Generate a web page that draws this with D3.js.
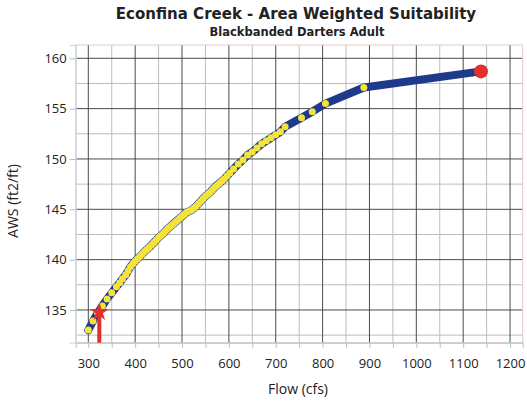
<!DOCTYPE html>
<html lang="en">
<head>
<meta charset="UTF-8"/>
<title>Econfina Creek - Area Weighted Suitability</title>
<script src="https://d3js.org/d3.v7.min.js"></script>
<style>
	body { margin: 0; background: white; }
	text { font-family: "Open Sans", sans-serif; fill: #222; }
	.title { font-family: "DejaVu Sans", sans-serif; font-weight: bold; }
</style>
</head>
<body>
<script>
	var w = 527;
	var h = 406;

	// flow (cfs) and AWS (ft2/ft)
	var flows = [300, 310, 320, 330, 340, 350, 360, 367, 373, 380,
				385, 390, 395, 400, 405, 410, 415, 420, 425, 430,
				435, 440, 445, 450, 455, 460, 465, 470, 475, 480,
				485, 490, 495, 500, 505, 510, 515, 520, 525, 530,
				535, 540, 545, 550, 555, 560, 565, 570, 575, 580,
				585, 590, 596, 602, 610, 620, 630, 640, 650, 660,
				670, 680, 690, 700, 710, 720, 755, 778, 806, 888];
	var aws = [133.0, 133.9, 134.7, 135.4, 136.1, 136.7, 137.3, 137.7, 138.1, 138.5,
				138.9, 139.3, 139.6, 139.85, 140.1, 140.3, 140.55, 140.8, 141.0, 141.2,
				141.45, 141.7, 141.95, 142.2, 142.4, 142.6, 142.85, 143.1, 143.3, 143.5,
				143.7, 143.9, 144.1, 144.3, 144.5, 144.7, 144.8, 144.9, 145.1, 145.3,
				145.55, 145.8, 146.05, 146.3, 146.5, 146.7, 146.95, 147.2, 147.4, 147.6,
				147.8, 148.0, 148.3, 148.6, 149.0, 149.5, 149.9, 150.4, 150.7, 151.1,
				151.5, 151.8, 152.1, 152.4, 152.7, 153.2, 154.1, 154.7, 155.5, 157.1];
	var endFlow = 1138, endAws = 158.7;
	var markFlow = 323.5, markAws = 134.8;

	var xTicks = [300, 400, 500, 600, 700, 800, 900, 1000, 1100, 1200];
	var yTicks = [135, 140, 145, 150, 155, 160];

	var pLeft = 75.7, pRight = 522.7, pTop = 45, pBottom = 342.7;

	var xScale = d3.scaleLinear().domain([273.1, 1227]).range([pLeft, pRight]);
	var yScale = d3.scaleLinear().domain([131.75, 161.32]).range([pBottom, pTop]);

	var svg = d3.select("body").append("svg")
		.attr("width", w).attr("height", h);

	// minor grid
	var g = svg.append("g");
	g.selectAll(".vminor").data(d3.range(350, 1201, 100)).enter().append("line")
		.attr("x1", d => xScale(d)).attr("x2", d => xScale(d))
		.attr("y1", pTop).attr("y2", pBottom)
		.attr("stroke", "#bdbdbd").attr("stroke-width", 1);
	g.selectAll(".hminor").data([132.5, 137.5, 142.5, 147.5, 152.5, 157.5]).enter().append("line")
		.attr("x1", pLeft).attr("x2", pRight)
		.attr("y1", d => yScale(d)).attr("y2", d => yScale(d))
		.attr("stroke", "#bdbdbd").attr("stroke-width", 1);
	// major grid
	g.selectAll(".vmajor").data(xTicks).enter().append("line")
		.attr("x1", d => xScale(d)).attr("x2", d => xScale(d))
		.attr("y1", pTop).attr("y2", pBottom)
		.attr("stroke", "#4a4a4a").attr("stroke-width", 1);
	g.selectAll(".hmajor").data(yTicks).enter().append("line")
		.attr("x1", pLeft).attr("x2", pRight)
		.attr("y1", d => yScale(d)).attr("y2", d => yScale(d))
		.attr("stroke", "#4a4a4a").attr("stroke-width", 1);

	// frame
	svg.append("rect")
		.attr("x", pLeft).attr("y", pTop)
		.attr("width", pRight - pLeft).attr("height", pBottom - pTop)
		.attr("fill", "none").attr("stroke", "#e3c9c6").attr("stroke-width", 1);

	// axes
	var xAxis = d3.axisBottom(xScale).tickValues(d3.range(300, 1201, 50))
		.tickSize(5).tickFormat(d => d % 100 === 0 ? d : "");
	svg.append("g").attr("transform", "translate(0," + pBottom + ")").call(xAxis)
		.call(a => a.select(".domain").attr("stroke", "#9cc6d6"))
		.call(a => a.selectAll(".tick line").attr("stroke", "#9cc6d6"))
		.call(a => a.selectAll("text").attr("font-size", 13).attr("dy", "1.35em")
			.attr("font-family", "Open Sans").attr("fill", "#222"));

	var yAxis = d3.axisLeft(yScale).tickValues(yTicks).tickSize(6).tickPadding(3);
	svg.append("g").attr("transform", "translate(" + pLeft + ",0)").call(yAxis)
		.call(a => a.select(".domain").attr("stroke", "#c8d4da"))
		.call(a => a.selectAll(".tick line").attr("stroke", "#9cc6d6"))
		.call(a => a.selectAll("text").attr("font-size", 13)
			.attr("font-family", "Open Sans").attr("fill", "#222"));

	// curve
	var pts = flows.map((f, i) => [f, aws[i]]);
	pts.push([endFlow, endAws]);
	var line = d3.line().x(d => xScale(d[0])).y(d => yScale(d[1]));
	svg.append("path").datum(pts)
		.attr("d", line)
		.attr("fill", "none")
		.attr("stroke", "#1e3a8c")
		.attr("stroke-width", 8)
		.attr("stroke-linecap", "round")
		.attr("stroke-linejoin", "round");

	svg.selectAll(".dot").data(flows).enter().append("circle")
		.attr("cx", d => xScale(d))
		.attr("cy", (d, i) => yScale(aws[i]))
		.attr("r", 3.5)
		.attr("fill", "#f3e33a");

	// end point
	svg.append("circle")
		.attr("cx", xScale(endFlow)).attr("cy", yScale(endAws))
		.attr("r", 7).attr("fill", "#e2302c");

	// marker
	svg.append("line")
		.attr("x1", xScale(markFlow)).attr("x2", xScale(markFlow))
		.attr("y1", pBottom).attr("y2", yScale(markAws))
		.attr("stroke", "#e2302c").attr("stroke-width", 4);
	svg.append("path")
		.attr("d", d3.symbol().type(d3.symbolStar).size(110)())
		.attr("transform", "translate(" + xScale(markFlow) + "," + yScale(markAws) + ")")
		.attr("fill", "#e2302c");

	// titles
	svg.append("text").attr("class", "title")
		.attr("x", 296).attr("y", 19).attr("text-anchor", "middle")
		.attr("font-size", 15).text("Econfina Creek - Area Weighted Suitability");
	svg.append("text").attr("class", "title")
		.attr("x", 297).attr("y", 36).attr("text-anchor", "middle")
		.attr("font-size", 11.5).text("Blackbanded Darters Adult");

	svg.append("text")
		.attr("x", 298).attr("y", 394).attr("text-anchor", "middle")
		.attr("font-size", 14).text("Flow (cfs)");
	svg.append("text")
		.attr("transform", "translate(18,201) rotate(-90)")
		.attr("text-anchor", "middle")
		.attr("font-size", 14).text("AWS (ft2/ft)");
</script>
</body>
</html>
